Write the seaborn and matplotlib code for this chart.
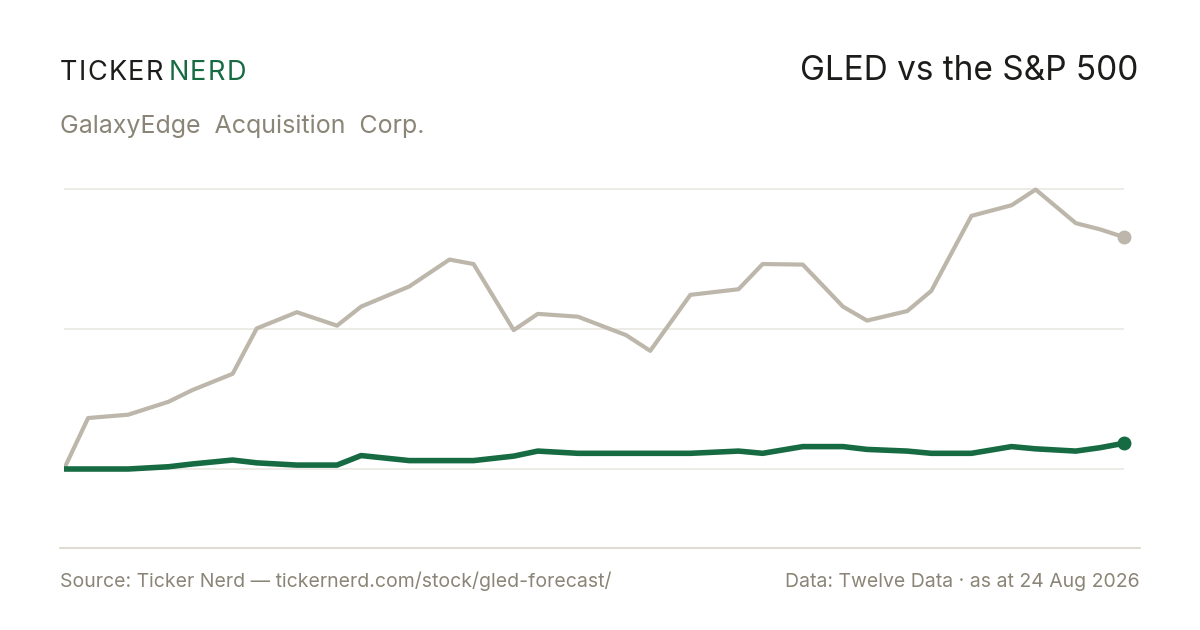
import matplotlib
matplotlib.use("Agg")
import matplotlib.pyplot as plt
import seaborn as sns
import pandas as pd
from matplotlib.lines import Line2D

# ---------------------------------------------------------------------------
# data (cumulative return, %), x in weeks since start of the window
# ---------------------------------------------------------------------------
weeks = [0, 3, 8, 13, 16, 21, 24, 29, 34, 37, 43, 48, 51, 56, 59, 64,
         70, 73, 78, 84, 87, 92, 97, 100, 105, 108, 113, 118, 121, 126, 129, 132]
sp500 = [0.0, 9.1, 9.7, 12.0, 14.1, 17.0, 25.1, 28.0, 25.6, 29.0, 32.6, 37.4,
         36.6, 24.8, 27.7, 27.2, 23.9, 21.1, 31.1, 32.1, 36.6, 36.5, 29.0, 26.5,
         28.2, 31.8, 45.2, 47.1, 49.9, 43.9, 42.8, 41.4]
gled = [0.0, 0.0, 0.0, 0.4, 0.9, 1.6, 1.1, 0.7, 0.7, 2.4, 1.5, 1.5,
        1.5, 2.3, 3.2, 2.8, 2.8, 2.8, 2.8, 3.2, 2.8, 4.0, 4.0, 3.5,
        3.2, 2.8, 2.8, 4.0, 3.6, 3.2, 3.8, 4.6]
grid_vals = [0, 25, 50]

GREEN = "#166b42"
SAND = "#bdb7ab"
INK = "#1c1c1a"
MUTED = "#8a8577"
GRID = "#ece9e3"

W, H = 1200, 630

df = pd.DataFrame({"week": weeks, "S&P 500": sp500, "GLED": gled})

sns.set_theme(style="white")
plt.rcParams["font.family"] = ["Inter", "DejaVu Sans"]

fig = plt.figure(figsize=(12, 6.3), dpi=100)
fig.patch.set_facecolor("white")


def tracked(x_px, y_px, text, color, size, track_px):
    """draw text letter by letter with extra spacing, returns end x in px"""
    renderer = fig.canvas.get_renderer()
    x = x_px
    for ch in text:
        t = fig.text(x / W, 1 - y_px / H, ch, color=color, fontsize=size,
                     va="baseline", ha="left")
        bb = t.get_window_extent(renderer=renderer)
        x += bb.width + track_px
    return x


# axes placed so that 0 sits at y=469px and 50 at y=189px
ax = fig.add_axes([64 / W, 1 - 536.2 / H, 1060 / W, 369.6 / H])
ax.set_facecolor("white")

for v in grid_vals:
    ax.axhline(v, color=GRID, lw=1.3, zorder=0)

sns.lineplot(data=df, x="week", y="S&P 500", ax=ax, color=SAND, lw=3,
             zorder=2)
sns.lineplot(data=df, x="week", y="GLED", ax=ax, color=GREEN, lw=4,
             zorder=3)
ax.plot(weeks[-1], sp500[-1], "o", color=SAND, ms=9, zorder=4, clip_on=False)
ax.plot(weeks[-1], gled[-1], "o", color=GREEN, ms=9, zorder=5, clip_on=False)

ax.set_xlim(weeks[0], weeks[-1])
ax.set_ylim(-12, 54)
ax.set_xlabel("")
ax.set_ylabel("")
ax.set_xticks([])
ax.set_yticks([])
sns.despine(ax=ax, left=True, bottom=True)

# header
end = tracked(60, 80, "TICKER", INK, 19.5, 1.3)
tracked(end + 4, 80, "NERD", GREEN, 19.5, 1.3)
fig.text(1138 / W, 1 - 80 / H, "GLED vs the S&P 500", color=INK,
         fontsize=24, va="baseline", ha="right")
fig.text(60 / W, 1 - 133 / H, "GalaxyEdge  Acquisition  Corp.",
         color=MUTED, fontsize=18, va="baseline", ha="left")

# footer
fig.add_artist(Line2D([60 / W, 1140 / W], [1 - 548 / H, 1 - 548 / H],
                      color="#dedbd2", lw=1.5, transform=fig.transFigure))
fig.text(60 / W, 1 - 587 / H,
         "Source: Ticker Nerd \u2014 tickernerd.com/stock/gled-forecast/",
         color=MUTED, fontsize=14, va="baseline", ha="left")
fig.text(1140 / W, 1 - 587 / H,
         "Data: Twelve Data \u00b7 as at 24 Aug 2026",
         color=MUTED, fontsize=14, va="baseline", ha="right")

fig.savefig("out.png", dpi=100, facecolor="white")
